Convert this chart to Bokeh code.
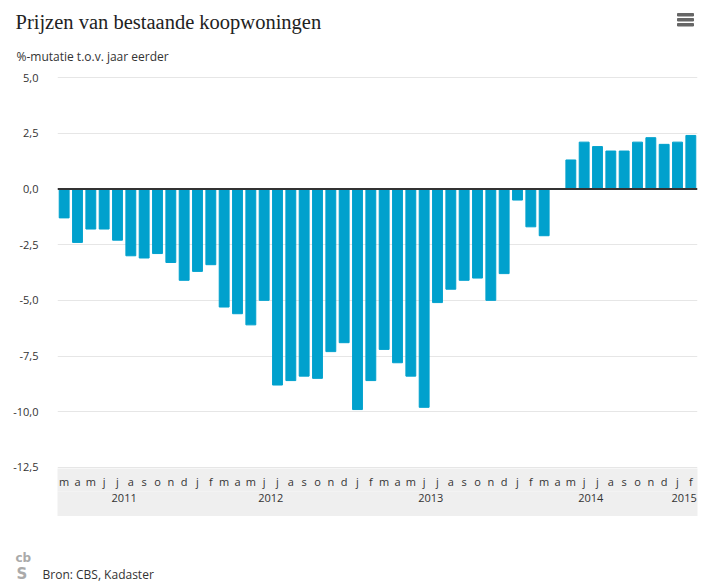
from bokeh.plotting import figure
from bokeh.layouts import column
from bokeh.models import FixedTicker, LinearAxis, Range1d, Span, CustomJSTickFormatter
from bokeh.core.properties import value
from bokeh.embed import file_html
from bokeh.resources import INLINE

# ---- data ----
month_labels = ["m", "a", "m", "j", "j", "a", "s", "o", "n", "d",
                "j", "f", "m", "a", "m", "j", "j", "a", "s", "o", "n", "d",
                "j", "f", "m", "a", "m", "j", "j", "a", "s", "o", "n", "d",
                "j", "f", "m", "a", "m", "j", "j", "a", "s", "o", "n", "d",
                "j", "f"]
years = [2011] * 10 + [2012] * 12 + [2013] * 12 + [2014] * 12 + [2015] * 2
values = [-1.3, -2.4, -1.8, -1.8, -2.3, -3.0, -3.1, -2.9, -3.3, -4.1,
          -3.7, -3.4, -5.3, -5.6, -6.1, -5.0, -8.8, -8.6, -8.4, -8.5, -7.3, -6.9,
          -9.9, -8.6, -7.2, -7.8, -8.4, -9.8, -5.1, -4.5, -4.1, -4.0, -5.0, -3.8,
          -0.5, -1.7, -2.1, 0.0, 1.3, 2.1, 1.9, 1.7, 1.7, 2.1, 2.3, 2.0,
          2.1, 2.4]
y_ticks = [-12.5, -10.0, -7.5, -5.0, -2.5, 0.0, 2.5, 5.0]

title_text = "Prijzen van bestaande koopwoningen"
subtitle_text = "%-mutatie t.o.v. jaar eerder"
source_text = "Bron: CBS, Kadaster"

idx = list(range(len(values)))
year_list = sorted(set(years))
year_centers = [sum(i for i, y in zip(idx, years) if y == yr) / years.count(yr) for yr in year_list]

BAR = "#00a1cd"
TXT = "#333333"
FONT = "Open Sans"
W = 701
HEAD_H, MAIN_H, FOOT_H = 66, 450, 72


def blank(h):
    f = figure(width=W, height=h, x_range=Range1d(0, W), y_range=Range1d(h, 0),
               title=None,
               output_backend="svg", toolbar_location=None,
               x_axis_location=None, y_axis_location=None,
               min_border=0, outline_line_color=None,
               background_fill_color="white", border_fill_color="white")
    f.xgrid.visible = False
    f.ygrid.visible = False
    f.frame_align = False
    return f


# ---- header ----
head = blank(HEAD_H)
head.text(x=[15], y=[21], text=[title_text], text_font=value("Liberation Serif"),
          text_font_size="20.5px", text_color="#222222", text_baseline="alphabetic")
head.text(x=[16], y=[56], text=[subtitle_text], text_font=value(FONT),
          text_font_size="12px", text_color=TXT, text_baseline="alphabetic")
head.quad(left=[677, 677, 677], right=[693, 693, 693], top=[13, 18, 23], bottom=[15.5, 20.5, 25.5],
          color="#666666")

# ---- main chart ----
p = figure(width=W, height=MAIN_H, title=None,
           x_range=Range1d(-0.5, len(values) - 0.5),
           y_range=Range1d(-12.545, 5.045),
           output_backend="svg", toolbar_location=None,
           x_axis_location=None,
           min_border_left=57, min_border_right=4,
           min_border_top=10, min_border_bottom=47,
           background_fill_color="white", border_fill_color="white",
           outline_line_color=None)
p.frame_align = False

p.vbar(x=idx, top=values, bottom=0, width=0.74, color=BAR)

p.xgrid.visible = False
p.ygrid.ticker = FixedTicker(ticks=y_ticks)
p.ygrid.grid_line_color = "#e6e6e6"

ya = p.yaxis[0]
ya.ticker = FixedTicker(ticks=y_ticks)
ya.formatter = CustomJSTickFormatter(code="return tick.toFixed(1).replace('.', ',');")
ya.axis_line_color = None
ya.major_tick_line_color = None
ya.minor_tick_line_color = None
ya.major_label_standoff = 13
ya.major_label_text_font = FONT
ya.major_label_text_font_size = "11px"
ya.major_label_text_color = TXT

month_axis = LinearAxis(ticker=FixedTicker(ticks=idx),
                        major_label_overrides={i: m for i, m in zip(idx, month_labels)})
year_axis = LinearAxis(ticker=FixedTicker(ticks=year_centers),
                       formatter=CustomJSTickFormatter(
                           args=dict(c=year_centers, l=[str(y) for y in year_list]),
                           code="const i = c.indexOf(tick); return i >= 0 ? l[i] : '';"))
for ax, so in ((month_axis, 5), (year_axis, 2)):
    ax.axis_line_color = None
    ax.major_tick_line_color = None
    ax.minor_tick_line_color = None
    ax.major_tick_out = 0
    ax.major_tick_in = 0
    ax.major_label_standoff = so
    ax.major_label_text_font = FONT
    ax.major_label_text_font_size = "11px"
    ax.major_label_text_color = TXT
    ax.background_fill_color = "#efefef"
year_axis.axis_label = " "
year_axis.axis_label_standoff = 0
year_axis.axis_label_text_font_size = "8px"
p.add_layout(month_axis, "below")
p.add_layout(year_axis, "below")

p.add_layout(Span(location=0, dimension="width", line_color="#333333", line_width=2))

# ---- footer ----
foot = blank(FOOT_H)
foot.text(x=[42], y=[58], text=[source_text], text_font=value(FONT),
          text_font_size="12px", text_color=TXT, text_baseline="alphabetic")
foot.text(x=[15], y=[41], text=["cb"], text_font=value("DejaVu Sans"), text_font_style="bold",
          text_font_size="12px", text_color="#aaaaaa", text_baseline="alphabetic")
foot.text(x=[16], y=[57], text=["S"], text_font=value("DejaVu Sans"), text_font_style="bold",
          text_font_size="15px", text_color="#aaaaaa", text_baseline="alphabetic")

layout = column(head, p, foot, spacing=0)
open("out.html", "w").write(file_html(layout, INLINE))
